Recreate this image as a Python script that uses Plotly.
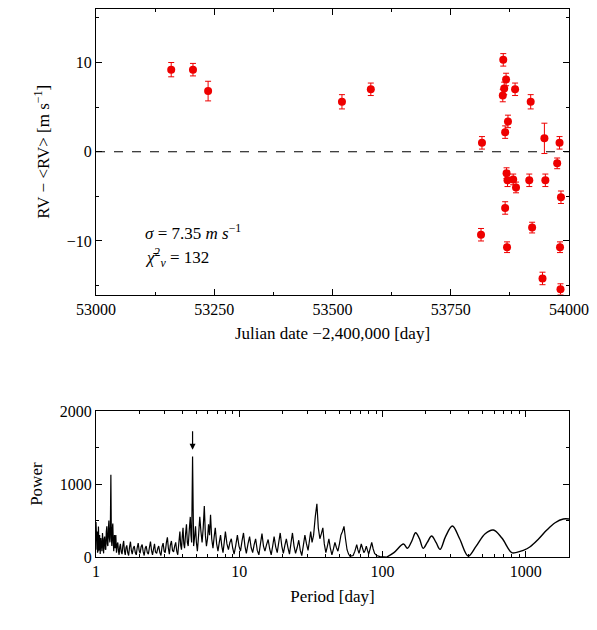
import plotly.graph_objects as go
import math

# radial velocity residuals
jd = [53159, 53205, 53237, 53520, 53581,
      53861, 53867, 53863, 53860, 53886, 53919, 53871, 53865, 53816, 53948, 53980,
      53975, 53868, 53870, 53882, 53888, 53916, 53950, 53983, 53865, 53922, 53814,
      53869, 53981, 53944, 53982]
rv = [9.2, 9.2, 6.8, 5.6, 7.0,
      10.3, 8.1, 7.1, 6.3, 7.0, 5.6, 3.4, 2.2, 1.0, 1.5, 1.0,
      -1.3, -2.4, -3.2, -3.1, -4.0, -3.2, -3.2, -5.1, -6.3, -8.5, -9.3,
      -10.7, -10.7, -14.2, -15.4]
rv_err = [0.8, 0.7, 1.1, 0.8, 0.7,
          0.7, 0.7, 0.7, 0.7, 0.7, 0.8, 0.7, 0.7, 0.7, 1.7, 0.7,
          0.6, 0.6, 0.7, 0.6, 0.6, 0.7, 0.7, 0.7, 0.7, 0.6, 0.7,
          0.6, 0.6, 0.7, 0.6]

# periodogram, noisy part
per_noise = [1.00, 1.005, 1.01, 1.015, 1.02, 1.025, 1.03, 1.035, 1.04, 1.045, 1.05, 1.06, 1.065, 1.07,
             1.08, 1.09, 1.10, 1.11, 1.12, 1.13, 1.14, 1.15, 1.16, 1.17, 1.18, 1.19,
             1.20, 1.21, 1.22, 1.23, 1.24, 1.25, 1.26, 1.27, 1.28, 1.29, 1.30, 1.31, 1.32, 1.33, 1.345,
             1.36, 1.375, 1.39, 1.405, 1.42, 1.435, 1.45, 1.465, 1.48, 1.50, 1.52, 1.54, 1.56, 1.58, 1.60,
             1.62, 1.64, 1.665, 1.69, 1.715, 1.74, 1.765, 1.79, 1.82, 1.85, 1.88, 1.91, 1.94, 1.97,
             2.00, 2.03, 2.065, 2.10, 2.135, 2.17, 2.205, 2.24, 2.28, 2.32, 2.36, 2.40, 2.44, 2.48,
             2.52, 2.56, 2.60, 2.65, 2.70, 2.74, 2.79, 2.84, 2.89, 2.94, 2.99, 3.04, 3.10, 3.15, 3.20,
             3.25, 3.30, 3.36, 3.42, 3.48, 3.54, 3.60, 3.66, 3.72, 3.78, 3.85, 3.90, 3.95, 4.00, 4.05,
             4.10, 4.15, 4.22, 4.28, 4.34, 4.40, 4.48, 4.55, 4.60, 4.65, 4.72, 4.80, 4.88, 4.95, 5.02,
             5.10, 5.20, 5.30, 5.40, 5.50, 5.60, 5.70, 5.80, 5.90, 6.00, 6.10, 6.20, 6.30, 6.42, 6.55,
             6.68, 6.80, 6.95, 7.10, 7.25, 7.40, 7.55, 7.70, 7.85, 8.00, 8.20, 8.40, 8.60, 8.80, 9.00,
             9.20, 9.45, 9.70, 9.95, 10.2, 10.45, 10.7, 10.95, 11.2, 11.5, 11.8, 12.1, 12.4, 12.7, 13.0,
             13.35, 13.7, 14.05, 14.4, 14.75, 15.1, 15.5, 15.9, 16.3, 16.7, 17.1, 17.5, 17.95, 18.4,
             18.85, 19.3, 19.8, 20.3, 20.8, 21.3, 21.85, 22.4, 22.95, 23.5, 24.1, 24.7, 25.35, 26.0,
             26.65, 27.3, 28.0, 28.7, 29.45, 30.2, 30.85, 31.5, 32.2, 33.0, 33.9, 34.8, 35.6, 36.5,
             37.4, 38.3, 39.2, 40.2, 41.2, 42.2, 43.2, 44.3, 45.4, 46.5, 47.6, 48.8, 50.0, 51.2, 52.5,
             53.8, 55.1, 56.5, 57.9, 59.3, 60.8, 62.3, 64.1, 66.0, 67.2, 68.5, 69.7, 71.0, 72.5, 74.0,
             75.5, 77.0, 78.5, 80.0, 82.0, 84.0, 86.0, 88.0, 91.0, 96.0, 107]
pow_noise = [480, 150, 380, 100, 350, 60, 300, 90, 420, 130, 90, 300, 70, 40,
             260, 120, 80, 330, 140, 50, 250, 280, 110, 100, 350, 420,
             180, 150, 380, 500, 260, 200, 420, 1130, 260, 150, 380, 460, 200, 80, 300,
             120, 300, 60, 170, 200, 80, 30, 140, 180, 70, 40, 160, 220, 80, 30,
             130, 160, 60, 20, 140, 210, 90, 40, 120, 150, 60, 30, 130, 190,
             90, 50, 140, 170, 70, 20, 120, 150, 60, 40, 130, 210, 90, 30,
             110, 180, 70, 50, 120, 150, 60, 20, 140, 190, 80, 60, 200, 270, 120,
             40, 160, 220, 90, 70, 150, 200, 80, 30, 180, 350, 160, 100, 280, 400,
             180, 120, 320, 450, 200, 150, 380, 550, 300, 200, 1380, 150, 280, 420, 200,
             80, 300, 550, 350, 200, 400, 700, 300, 150, 250, 450, 300, 580, 250, 120,
             280, 400, 180, 80, 200, 300, 150, 60, 200, 350, 180, 100, 200, 250, 120,
             40, 160, 300, 150, 80, 220, 330, 150, 50, 180, 280, 130, 60, 170, 250,
             90, 30, 180, 320, 150, 80, 170, 240, 110, 30, 150, 280, 140, 60,
             200, 330, 150, 50, 160, 250, 130, 40, 190, 330, 150, 50, 130, 230,
             90, 20, 160, 300, 180, 90, 220, 350, 200, 300, 550, 730, 400, 250,
             320, 400, 180, 60, 150, 250, 120, 30, 110, 200, 130, 80, 180, 300, 350,
             420, 250, 100, 40, 10, 15, 20, 80, 170, 100, 50, 110, 180, 120, 60,
             90, 150, 90, 40, 120, 200, 110, 50, 20, 5, 0]

# periodogram, smooth long-period part
per_smooth = [107, 120, 140, 149, 160, 170, 181, 192, 205, 220, 236, 252, 275, 307, 345,
              396, 450, 520, 593, 680, 797, 863, 960, 1071, 1230, 1400, 1600, 1827, 2000]
pow_smooth = [0, 60, 178, 120, 220, 333, 250, 119, 200, 288, 200, 105, 280, 425, 250,
              14, 150, 320, 370, 260, 59, 64, 90, 141, 250, 370, 470, 521, 521]

serif = "Liberation Serif"
red = "#ee0000"

fig = go.Figure()
fig.add_trace(go.Scatter(x=jd, y=rv, mode="markers",
                         marker=dict(color=red, size=8),
                         error_y=dict(type="data", array=rv_err, color=red, thickness=1, width=3),
                         xaxis="x", yaxis="y"))
fig.add_trace(go.Scatter(x=per_noise, y=pow_noise, mode="lines",
                         line=dict(color="black", width=1.2), xaxis="x2", yaxis="y2"))
fig.add_trace(go.Scatter(x=per_smooth, y=pow_smooth, mode="lines", line_shape="spline",
                         line=dict(color="black", width=1.4), xaxis="x2", yaxis="y2"))

axis_style = dict(showgrid=False, zeroline=False, showline=True, linecolor="black", linewidth=1,
                  mirror="allticks", ticks="inside", ticklen=6, tickcolor="black", automargin=False,
                  tickfont=dict(family=serif, size=16, color="black"))

fig.update_layout(
    width=597, height=630, showlegend=False,
    plot_bgcolor="white", paper_bgcolor="white",
    margin=dict(l=88, r=36, t=1, b=81),
    font=dict(family=serif, size=16, color="black"),
    xaxis=dict(axis_style, range=[53000, 54000], dtick=250, anchor="y", tickformat="d",
               minor=dict(dtick=125, ticks="inside", ticklen=3, tickcolor="black"),
               title=dict(text="Julian date −2,400,000 [day]", standoff=10,
                          font=dict(family=serif, size=17))),
    yaxis=dict(axis_style, range=[-16, 16], dtick=10, domain=[0.479, 1], anchor="x",
               minor=dict(dtick=5, ticks="inside", ticklen=3, tickcolor="black"),
               title=dict(text="RV − &lt;RV&gt; [m s<sup>−1</sup>]", standoff=12,
                          font=dict(family=serif, size=17))),
    xaxis2=dict(axis_style, type="log", range=[0, math.log10(2000)], anchor="y2",
                tickvals=[1, 10, 100, 1000], ticktext=["1", "10", "100", "1000"],
                minor=dict(tickvals=[2, 3, 4, 5, 6, 7, 8, 9, 20, 30, 40, 50, 60, 70, 80, 90,
                                     200, 300, 400, 500, 600, 700, 800, 900, 2000],
                           ticks="inside", ticklen=3, tickcolor="black"),
                title=dict(text="Period [day]", standoff=10, font=dict(family=serif, size=17))),
    yaxis2=dict(axis_style, range=[0, 2000], tickvals=[0, 1000, 2000], domain=[0, 0.266], anchor="x2",
                minor=dict(dtick=500, ticks="inside", ticklen=3, tickcolor="black"),
                title=dict(text="Power", standoff=12, font=dict(family=serif, size=17))),
    shapes=[dict(type="line", xref="x", yref="y", x0=53000, x1=54000, y0=0, y1=0,
                 line=dict(color="black", width=1, dash="dash"))],
    annotations=[
        dict(x=53100, y=-9, xref="x", yref="y", xanchor="left", showarrow=False,
             text="<i>σ</i> = 7.35 <i>m s</i><sup>−1</sup>", font=dict(family=serif, size=17)),
        dict(x=53100, y=-11.8, xref="x", yref="y", xanchor="left", showarrow=False,
             text="<i>χ̄</i><sup>2</sup><sub><i>ν</i></sub> = 132", font=dict(family=serif, size=17)),
        dict(x=math.log10(4.72), y=1470, xref="x2", yref="y2", showarrow=True, arrowcolor="black",
             arrowhead=2, arrowsize=1, arrowwidth=1.2, ax=0, ay=-20, text=""),
    ],
)

fig.write_html("out.html")
